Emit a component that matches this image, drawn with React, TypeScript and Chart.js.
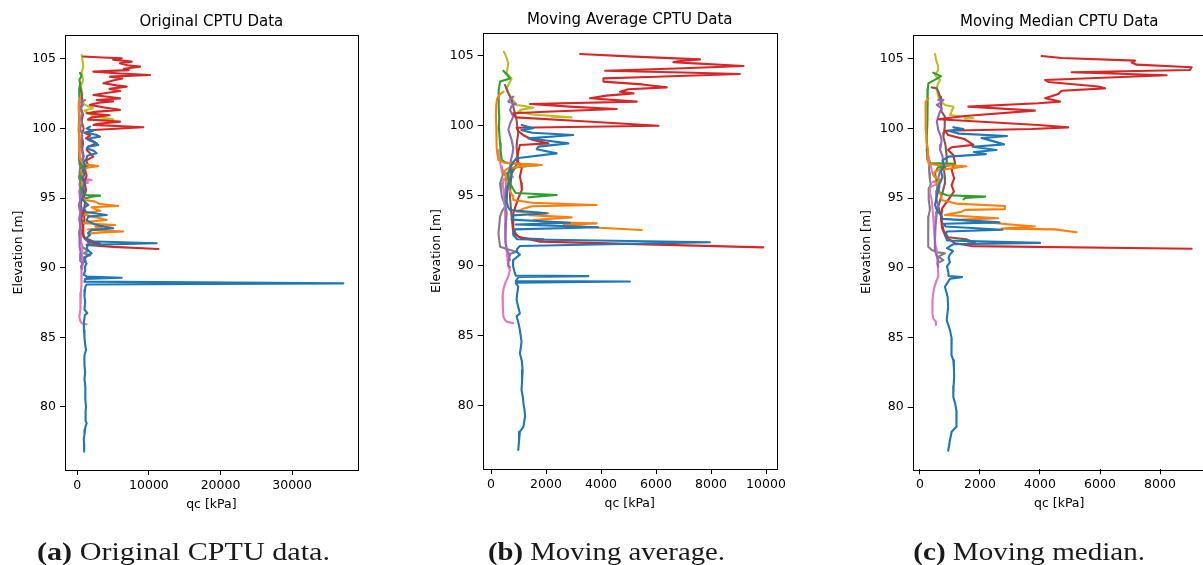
import React, { useEffect, useRef } from "react";
import { Chart, registerables } from "chart.js";

Chart.register(...registerables);

// Each profile is a list of [elevation (m), qc (kPa)] readings, top to bottom.
type Profile = [number, number][];

// ---------- (a) original soundings ----------
const origBlue: Profile = [
  [100.14, 1770], [100.0, 1300], [99.85, 2200], [99.7, 1200], [99.55, 2600], [99.42, 3170], [99.3, 1800],
  [99.18, 1540], [99.0, 2500], [98.82, 2940], [98.7, 1500], [98.58, 1310], [98.4, 2300], [98.22, 2700],
  [98.05, 1400], [97.86, 1310], [97.6, 900], [97.3, 1100], [97.0, 800], [96.7, 1000], [96.4, 700],
  [96.07, 1075], [95.7, 800], [95.3, 900], [94.9, 700], [94.51, 1540], [94.3, 900], [94.0, 1200],
  [93.79, 4100], [93.67, 1540], [93.4, 1300], [93.1, 2500], [92.95, 3800], [92.84, 5030], [92.7, 2000],
  [92.5, 1500], [92.36, 1770], [92.1, 1200], [91.9, 1500], [91.76, 11080], [91.64, 1500], [91.4, 1300],
  [91.2, 1600], [91.04, 2000], [90.8, 1200], [90.5, 1000], [90.3, 1300], [90.08, 1075], [89.8, 1100],
  [89.5, 900], [89.36, 1310], [89.28, 6200], [89.2, 1100], [89.0, 1000], [88.88, 37150], [88.8, 1300],
  [88.6, 1100], [88.41, 1075], [88.0, 1000], [87.5, 1100], [87.0, 1000], [86.73, 1400], [86.6, 1050],
  [86.0, 900], [85.53, 940], [85.0, 1000], [84.5, 1100], [84.09, 1215], [83.7, 1000], [83.37, 940],
  [83.0, 1050], [82.5, 1100], [82.0, 1000], [81.46, 1120], [81.0, 1150], [80.5, 1100], [80.02, 1215],
  [79.6, 1150], [79.3, 1120], [79.0, 1200], [78.83, 1310], [78.6, 1150], [78.35, 1075], [78.0, 1000],
  [77.7, 900], [77.39, 940], [77.1, 950], [76.79, 980],
];
const origOrange: Profile = [
  [102.2, 400], [101.9, 200], [101.2, 250], [100.5, 300], [99.8, 200], [99.0, 350], [98.4, 250],
  [97.8, 400], [97.45, 800], [97.3, 2900], [97.2, 1500], [97.0, 500], [96.5, 800], [96.0, 600],
  [95.5, 900], [95.1, 700], [94.87, 1080], [94.75, 2500], [94.6, 3000], [94.44, 5730], [94.35, 2000],
  [94.27, 2240], [94.1, 3200], [93.95, 1500], [93.8, 1000], [93.6, 2800], [93.43, 4100], [93.3, 1500],
  [93.2, 900], [93.07, 5270], [92.95, 2500], [92.85, 3500], [92.75, 1500], [92.6, 6430], [92.52, 3000],
  [92.45, 1500],
];
const origGreen: Profile = [
  [104.0, 380], [103.8, 600], [103.5, 300], [103.2, 400], [102.8, 250], [102.2, 300], [101.5, 200],
  [100.8, 250], [100.0, 200], [99.2, 300], [98.5, 250], [97.8, 300], [97.45, 400], [97.35, 1500],
  [97.25, 600], [96.8, 400], [96.3, 600], [95.8, 500], [95.4, 700], [95.23, 1310], [95.18, 3170],
  [95.1, 2000], [95.0, 1200],
];
const origRed: Profile = [
  [105.17, 840], [105.1, 3500], [105.05, 6200], [104.95, 5000], [104.81, 7590], [104.69, 5960],
  [104.55, 7000], [104.45, 8760], [104.3, 6500], [104.2, 7200], [104.09, 2240], [103.95, 6000],
  [103.85, 10150], [103.73, 4570], [103.6, 6300], [103.45, 5000], [103.25, 3640], [103.1, 5500],
  [103.01, 6890], [102.85, 4500], [102.7, 6000], [102.55, 4000], [102.41, 2240], [102.3, 4000],
  [102.17, 5960], [102.05, 2700], [101.95, 5000], [101.85, 3000], [101.7, 1770], [101.5, 4000],
  [101.34, 5960], [101.2, 2500], [101.1, 1310], [100.95, 4500], [100.8, 2000], [100.65, 1500],
  [100.5, 5960], [100.35, 3000], [100.26, 2240], [100.09, 9220], [99.9, 2240], [99.7, 1000],
  [99.5, 1800], [99.3, 1200], [99.1, 2200], [98.94, 2700], [98.7, 1500], [98.46, 1310], [98.2, 1800],
  [97.98, 2240], [97.7, 1200], [97.4, 1500], [97.03, 1080], [96.6, 1300], [96.2, 1000], [95.59, 1220],
  [95.0, 900], [94.63, 1080], [94.0, 900], [93.5, 1000], [92.9, 800], [92.24, 840], [92.0, 1200],
  [91.85, 2000], [91.76, 3170], [91.64, 1310], [91.5, 5000], [91.35, 11320],
];
const origPurple: Profile = [
  [102.05, 1080], [101.9, 500], [101.7, 800], [101.4, 400], [101.1, 700], [100.8, 500], [100.4, 600],
  [100.0, 400], [99.5, 700], [99.0, 500], [98.5, 600], [98.0, 800], [97.5, 500], [97.0, 400],
  [96.5, 600], [96.0, 300], [95.5, 500], [95.0, 400], [94.5, 350], [94.0, 500], [93.5, 300],
  [93.0, 400], [92.5, 300], [92.0, 350], [91.5, 300], [91.0, 500], [90.5, 400], [90.3, 800],
  [90.1, 500], [89.9, 600],
];
const origBrown: Profile = [
  [103.0, 400], [102.5, 600], [102.0, 700], [101.5, 500], [101.0, 800], [100.5, 600], [100.0, 900],
  [99.5, 600], [99.0, 800], [98.5, 700], [98.0, 900], [97.5, 600], [97.0, 800], [96.5, 500],
  [96.0, 700], [95.5, 500], [95.0, 600], [94.5, 500], [94.0, 700], [93.5, 600], [93.0, 800],
  [92.5, 700], [92.12, 1080], [92.0, 1800], [91.88, 2240], [91.8, 1500],
];
const origPink: Profile = [
  [98.4, 300], [97.8, 200], [97.3, 400], [96.8, 300], [96.4, 900], [96.3, 2000], [96.2, 700],
  [96.1, 1500], [95.9, 400], [95.4, 300], [94.8, 400], [94.2, 500], [93.5, 400], [92.8, 600],
  [92.0, 500], [91.3, 700], [90.6, 650], [90.32, 750], [90.0, 700], [89.84, 610], [89.3, 550],
  [88.7, 600], [88.2, 500], [87.45, 470], [87.0, 400], [86.49, 280], [86.2, 400], [86.01, 610],
  [85.94, 1310],
];
const origGray: Profile = [
  [97.5, 300], [97.0, 500], [96.5, 200], [96.0, 600], [95.5, 300], [95.0, 500], [94.5, 200],
  [94.0, 400], [93.5, 300], [93.0, 500], [92.5, 250], [92.0, 400], [91.5, 700], [91.2, 1500],
  [91.05, 900], [90.9, 1800], [90.7, 600], [90.5, 1200], [90.35, 700],
];
const origOlive: Profile = [
  [105.29, 610], [105.0, 700], [104.45, 840], [104.0, 600], [103.5, 800], [103.0, 500], [102.5, 700],
  [102.0, 600], [101.7, 1080], [101.55, 1800], [101.46, 2240], [101.3, 1000], [101.1, 1500],
  [100.9, 2500], [100.75, 4000], [100.67, 5030], [100.6, 1500],
];

// ---------- (b) moving average ----------
const avgBlue: Profile = [
  [100.05, 1115], [99.95, 1300], [99.82, 1540], [99.7, 1100], [99.5, 1500], [99.34, 2990], [99.1, 1360],
  [98.95, 2000], [98.74, 2810], [98.51, 1720], [98.32, 1660], [98.03, 2390], [97.68, 930], [97.4, 800],
  [97.0, 700], [96.5, 750], [96.0, 650], [95.5, 600], [95.0, 580], [94.58, 570], [94.2, 620],
  [93.99, 690], [93.75, 2020], [93.6, 800], [93.3, 750], [93.08, 2870], [92.95, 900], [92.75, 3900],
  [92.6, 850], [92.2, 810], [91.9, 950], [91.68, 7960], [91.42, 1050], [91.2, 950], [91.01, 930],
  [90.8, 1050], [90.42, 810], [90.0, 800], [89.6, 850], [89.3, 900], [89.27, 3540], [89.2, 1000],
  [88.92, 900], [88.88, 5050], [88.8, 900], [88.51, 990], [88.0, 950], [87.56, 930], [87.0, 1000],
  [86.61, 1050], [86.4, 930], [85.9, 1000], [85.42, 1050], [84.59, 1110], [84.1, 1080], [83.76, 1050],
  [83.2, 1120], [82.57, 1150], [81.8, 1130], [81.14, 1110], [80.6, 1160], [80.19, 1180], [79.7, 1220],
  [79.24, 1240], [78.8, 1200], [78.52, 1180], [78.16, 1050], [77.5, 1020], [76.86, 990],
];
const avgOrange: Profile = [
  [102.43, 450], [102.2, 300], [101.96, 230], [101.5, 190], [100.65, 180], [100.0, 190], [99.3, 200],
  [98.5, 205], [98.0, 230], [97.56, 270], [97.35, 500], [97.32, 810], [97.2, 1840], [97.1, 1050],
  [96.95, 600], [96.7, 450], [96.4, 550], [96.1, 520], [95.89, 570], [95.5, 650], [95.1, 750],
  [94.94, 810], [94.7, 810], [94.5, 1500], [94.34, 3840], [94.25, 1500], [94.1, 1200], [93.87, 930],
  [93.75, 2080], [93.62, 1400], [93.46, 2930], [93.27, 1540], [93.1, 2000], [93.03, 3840],
  [92.92, 2630], [92.75, 3600], [92.56, 5480],
];
const avgGreen: Profile = [
  [103.93, 450], [103.6, 600], [103.38, 690], [103.15, 330], [102.6, 280], [102.08, 270], [101.3, 290],
  [100.65, 300], [99.8, 290], [98.75, 330], [98.2, 350], [97.56, 390], [97.4, 500], [97.32, 690],
  [97.2, 1780], [97.05, 1000], [96.96, 810], [96.6, 600], [96.2, 650], [95.89, 690], [95.5, 800],
  [95.2, 900], [95.06, 2390], [94.92, 1500], [94.89, 1360],
];
const avgRed: Profile = [
  [105.12, 3240], [104.95, 5000], [104.74, 7600], [104.6, 6800], [104.53, 6630], [104.45, 7400],
  [104.26, 9180], [104.1, 7000], [103.93, 4150], [103.8, 7000], [103.69, 9050], [103.5, 6000],
  [103.38, 4090], [103.15, 4090], [102.95, 5500], [102.74, 6390], [102.6, 5000], [102.43, 4690],
  [102.31, 5180], [102.15, 4200], [101.96, 3600], [101.72, 5300], [101.55, 1420], [101.35, 3000],
  [101.2, 4570], [101.0, 2000], [100.89, 810], [100.6, 900], [100.3, 3500], [100.0, 6090],
  [99.86, 930], [99.6, 1000], [99.3, 1200], [99.0, 1500], [98.74, 2090], [98.63, 1050], [98.2, 1000],
  [97.56, 930], [97.2, 1050], [96.96, 1120], [96.37, 1050], [95.9, 1100], [95.41, 1120], [94.82, 990],
  [94.3, 900], [93.75, 810], [92.68, 810], [92.3, 900], [92.08, 990], [91.73, 1780], [91.32, 9900],
];
const avgPurple: Profile = [
  [102.08, 810], [101.9, 700], [101.72, 630], [101.55, 900], [101.4, 750], [101.12, 690], [100.65, 810],
  [100.2, 700], [99.7, 630], [99.3, 700], [98.98, 750], [98.39, 810], [98.0, 780], [97.5, 720],
  [97.08, 690], [96.6, 620], [96.13, 570], [95.5, 540], [94.94, 510], [94.3, 540], [93.75, 570],
  [93.0, 540], [92.32, 510], [91.7, 540], [91.13, 570], [90.77, 690], [90.4, 640], [90.06, 630],
  [89.9, 690],
];
const avgBrown: Profile = [
  [102.91, 510], [102.6, 570], [102.31, 630], [101.84, 750], [101.36, 810], [100.9, 870], [100.41, 930],
  [99.9, 960], [99.46, 990], [98.95, 950], [98.5, 930], [97.9, 960], [97.56, 990], [97.1, 900],
  [96.6, 750], [96.0, 720], [95.4, 700], [94.94, 690], [94.2, 720], [93.51, 750], [92.9, 780],
  [92.32, 810], [91.96, 1120], [91.89, 1900], [91.8, 1780],
];
const avgPink: Profile = [
  [98.27, 270], [97.8, 300], [97.3, 340], [96.9, 380], [96.72, 390], [96.55, 700], [96.45, 500],
  [96.35, 800], [96.2, 450], [95.8, 430], [95.41, 450], [94.8, 480], [94.22, 510], [93.5, 510],
  [92.8, 510], [92.0, 540], [91.13, 570], [90.5, 600], [89.94, 630], [89.7, 690], [89.2, 620],
  [88.75, 510], [88.3, 450], [87.8, 420], [87.0, 430], [86.37, 450], [86.1, 520], [86.02, 570],
  [85.9, 810],
];
const avgGray: Profile = [
  [97.08, 390], [96.8, 420], [96.5, 430], [96.2, 380], [95.89, 330], [95.4, 360], [94.9, 400],
  [94.5, 480], [94.22, 510], [93.9, 400], [93.51, 330], [92.9, 300], [92.32, 270], [91.8, 300],
  [91.37, 330], [91.13, 690], [91.01, 930], [90.77, 570], [90.6, 650], [90.42, 690],
];
const avgOlive: Profile = [
  [105.29, 470], [104.9, 560], [104.45, 630], [104.1, 600], [103.74, 570], [103.38, 750], [103.0, 650],
  [102.67, 570], [102.3, 650], [101.96, 750], [101.7, 850], [101.48, 930], [101.38, 1300],
  [101.29, 1540], [101.15, 1100], [101.0, 990], [100.8, 1500], [100.6, 2930], [100.65, 2200],
];

// ---------- (c) moving median ----------
const medBlue: Profile = [
  [100.07, 1110], [99.95, 1450], [99.82, 950], [99.62, 1300], [99.45, 2900], [99.3, 2050], [99.1, 2400],
  [98.85, 2800], [98.68, 1750], [98.45, 2550], [98.3, 1800], [98.15, 2200], [97.97, 950], [97.7, 750],
  [97.3, 800], [96.9, 700], [96.5, 750], [96.0, 650], [95.5, 600], [95.0, 550], [94.5, 500],
  [94.2, 550], [94.0, 600], [93.8, 700], [93.5, 750], [93.25, 2650], [93.15, 800], [92.95, 850],
  [92.72, 2750], [92.6, 900], [92.3, 850], [91.95, 900], [91.78, 4000], [91.68, 1100], [91.4, 900],
  [91.2, 1100], [90.95, 1000], [90.7, 950], [90.4, 1000], [90.1, 900], [89.6, 950], [89.4, 950],
  [89.32, 1400], [89.2, 1000], [88.63, 830], [87.92, 920], [87.2, 940], [86.24, 890], [85.52, 1000],
  [84.92, 1055], [84.3, 1040], [83.73, 1060], [83.37, 1110], [82.8, 1130], [82.17, 1140], [81.5, 1120],
  [80.74, 1110], [80.26, 1170], [79.66, 1220], [79.1, 1210], [78.58, 1220], [78.22, 1055],
  [77.63, 1000], [76.86, 940],
];
const medOrange: Profile = [
  [102.15, 280], [101.92, 190], [101.5, 180], [101.0, 180], [100.5, 190], [100.0, 200], [99.5, 210],
  [99.0, 220], [98.45, 270], [97.8, 250], [97.45, 300], [97.37, 610], [97.28, 1550], [97.15, 1150],
  [97.0, 600], [96.77, 440], [96.5, 500], [96.3, 700], [96.1, 550], [95.8, 650], [95.5, 600],
  [95.2, 700], [94.86, 720], [94.6, 1200], [94.43, 2830], [94.2, 2830], [94.15, 1500], [94.02, 1390],
  [93.78, 830], [93.55, 2610], [93.45, 1390], [93.3, 1950], [92.95, 3830], [92.8, 2720], [92.75, 4500],
  [92.54, 5220],
];
const medGreen: Profile = [
  [104.0, 440], [103.75, 700], [103.55, 550], [103.23, 280], [102.8, 260], [102.27, 255], [101.5, 250],
  [100.5, 240], [99.5, 230], [98.5, 230], [97.8, 240], [97.5, 300], [97.45, 1170], [97.3, 900],
  [97.2, 600], [96.8, 500], [96.3, 550], [95.8, 600], [95.4, 650], [95.2, 900], [95.1, 2170],
  [95.0, 1500], [94.9, 1450],
];
const medRed: Profile = [
  [105.19, 4055], [105.05, 4720], [104.86, 7170], [104.72, 7055], [104.57, 7220], [104.38, 9055],
  [104.19, 9000], [104.02, 5055], [103.81, 8220], [103.47, 4170], [103.33, 4280], [103.0, 5940],
  [102.87, 6170], [102.7, 4720], [102.47, 4610], [102.16, 4170], [101.92, 4670], [101.8, 3940],
  [101.56, 1610], [101.27, 3830], [100.89, 1500], [100.65, 610], [100.24, 3940], [100.07, 4940],
  [99.95, 3720], [99.83, 830], [99.52, 940], [99.21, 1500], [98.81, 1780], [98.64, 1055], [98.45, 940],
  [98.09, 1110], [97.49, 1170], [97.01, 1055], [96.41, 1140], [95.93, 1055], [95.46, 1130],
  [94.86, 940], [94.26, 740], [93.54, 700], [92.82, 740], [92.22, 855], [91.75, 1170], [91.55, 1720],
  [91.36, 9055],
];
const medPurple: Profile = [
  [102.04, 610], [102.04, 780], [101.85, 700], [101.68, 560], [101.44, 720], [101.1, 650],
  [100.84, 610], [100.48, 560], [99.88, 610], [99.5, 680], [99.16, 720], [98.8, 700], [98.45, 670],
  [98.0, 750], [97.5, 780], [97.2, 700], [96.8, 650], [96.3, 600], [95.5, 560], [95.0, 540],
  [94.5, 600], [94.0, 560], [93.5, 540], [93.0, 520], [92.5, 510], [92.0, 500], [91.5, 490],
  [91.27, 500], [90.8, 560], [90.55, 610], [90.3, 580], [90.07, 610],
];
const medBrown: Profile = [
  [102.94, 390], [102.87, 560], [102.6, 620], [102.27, 670], [101.8, 700], [101.2, 720], [100.84, 830],
  [100.5, 820], [100.12, 830], [99.7, 800], [99.4, 780], [98.8, 850], [97.97, 890], [97.49, 890],
  [97.0, 800], [96.5, 830], [96.05, 830], [95.4, 750], [94.9, 680], [94.38, 610], [93.7, 700],
  [93.2, 740], [92.7, 780], [92.18, 940], [92.03, 1560], [91.79, 1830], [91.75, 1600],
];
const medPink: Profile = [
  [98.45, 220], [97.9, 300], [97.4, 350], [97.01, 390], [96.6, 450], [96.29, 610], [96.15, 420],
  [96.05, 640], [95.8, 350], [95.4, 330], [94.86, 390], [94.2, 420], [93.66, 440], [93.0, 460],
  [92.22, 480], [91.6, 520], [91.27, 555], [90.5, 580], [89.9, 600], [89.36, 610], [89.11, 555],
  [88.6, 480], [88.16, 440], [87.7, 420], [87.2, 410], [86.7, 420], [86.36, 440], [86.12, 530],
  [85.88, 530],
];
const medGray: Profile = [
  [97.49, 330], [97.2, 300], [96.8, 310], [96.3, 330], [96.0, 360], [95.7, 300], [95.34, 280],
  [94.9, 300], [94.4, 320], [94.14, 330], [93.66, 280], [93.2, 270], [92.6, 270], [92.0, 275],
  [91.51, 280], [91.27, 390], [91.1, 600], [91.03, 830], [90.79, 610], [90.55, 780], [90.4, 650],
];
const medOlive: Profile = [
  [105.34, 500], [105.0, 530], [104.79, 555], [104.5, 600], [104.19, 610], [103.83, 500], [103.47, 670],
  [103.2, 600], [102.87, 555], [102.5, 590], [102.27, 610], [101.9, 700], [101.68, 830], [101.55, 1110],
  [101.44, 1110], [101.3, 1060], [101.2, 1055], [100.96, 1000], [100.85, 1400], [100.72, 1780],
  [100.7, 1500],
];

// Tick values
const elevationTicks = [80, 85, 90, 95, 100, 105];
const qcTicksOriginal = [0, 10000, 20000, 30000];
const qcTicksAverage = [0, 2000, 4000, 6000, 8000, 10000];
const qcTicksMedian = [0, 2000, 4000, 6000, 8000];

// Sounding colours (tab10 order)
const profileColors = [
  "#1f77b4", "#ff7f0e", "#2ca02c", "#d62728", "#9467bd",
  "#8c564b", "#e377c2", "#7f7f7f", "#bcbd22",
];

interface PanelSpec {
  key: string;
  title: string;
  tag: string;
  caption: string;
  profiles: Profile[];
  xTicks: number[];
  xMin: number;
  xMax: number;
  yMin: number;
  yMax: number;
  canvasLeft: number;
  canvasWidth: number;
  plotLeft: number;
  plotRight: number;
  plotTop: number;
  plotBottom: number;
  captionLeft: number;
  captionRight: number;
}

const PAGE_H = 565;

const panels: PanelSpec[] = [
  {
    key: "a",
    title: "Original CPTU Data",
    tag: "(a)",
    caption: "Original CPTU data.",
    profiles: [origBlue, origOrange, origGreen, origRed, origPurple, origBrown, origPink, origGray, origOlive],
    xTicks: qcTicksOriginal,
    xMin: -1718, xMax: 39160, yMin: 75.47, yMax: 106.72,
    canvasLeft: 0, canvasWidth: 400,
    plotLeft: 65, plotRight: 357.7, plotTop: 35, plotBottom: 470,
    captionLeft: 37, captionRight: 330,
  },
  {
    key: "b",
    title: "Moving Average CPTU Data",
    tag: "(b)",
    caption: "Moving average.",
    profiles: [avgBlue, avgOrange, avgGreen, avgRed, avgPurple, avgBrown, avgPink, avgGray, avgOlive],
    xTicks: qcTicksAverage,
    xMin: -302, xMax: 10389, yMin: 75.5, yMax: 106.62,
    canvasLeft: 420, canvasWidth: 400,
    plotLeft: 482.7, plotRight: 776.7, plotTop: 33, plotBottom: 469,
    captionLeft: 488, captionRight: 725,
  },
  {
    key: "c",
    title: "Moving Median CPTU Data",
    tag: "(c)",
    caption: "Moving median.",
    profiles: [medBlue, medOrange, medGreen, medRed, medPurple, medBrown, medPink, medGray, medOlive],
    xTicks: qcTicksMedian,
    xMin: -243, xMax: 9523, yMin: 75.53, yMax: 106.72,
    canvasLeft: 840, canvasWidth: 380,
    plotLeft: 912.7, plotRight: 1205.7, plotTop: 34.7, plotBottom: 469.3,
    captionLeft: 913.3, captionRight: 1145,
  },
];

const SANS = '"DejaVu Sans", sans-serif';
const SERIF = '"Liberation Serif", "DejaVu Serif", serif';

function Panel({ spec }: { spec: PanelSpec }) {
  const ref = useRef<HTMLCanvasElement | null>(null);

  useEffect(() => {
    const canvas = ref.current;
    if (!canvas) return;
    const off = spec.canvasLeft;
    const yAxisWidth = spec.plotLeft - off;
    const xAxisHeight = PAGE_H - spec.plotBottom;
    const rightPad = off + spec.canvasWidth - spec.plotRight;

    const frame = {
      id: "frame",
      afterDatasetsDraw(chart: Chart) {
        const { ctx, chartArea: a } = chart;
        ctx.save();
        ctx.strokeStyle = "#000";
        ctx.lineWidth = 1;
        ctx.strokeRect(Math.round(a.left) + 0.5, Math.round(a.top) + 0.5,
          Math.round(a.right - a.left), Math.round(a.bottom - a.top));
        ctx.restore();
      },
      afterDraw(chart: Chart) {
        const { ctx, chartArea: a } = chart;
        const cx = (a.left + a.right) / 2;
        ctx.save();
        ctx.fillStyle = "#000";
        // title
        ctx.font = `15px ${SANS}`;
        ctx.textAlign = "center";
        ctx.textBaseline = "alphabetic";
        ctx.fillText(spec.title, cx, a.top - 9);
        // x axis label
        ctx.font = `12.5px ${SANS}`;
        ctx.fillText("qc [kPa]", cx, a.bottom + 37.5);
        // y axis label
        ctx.save();
        ctx.translate(a.left - 43, (a.top + a.bottom) / 2);
        ctx.rotate(-Math.PI / 2);
        ctx.fillText("Elevation [m]", 0, 0);
        ctx.restore();
        // caption below the panel
        const fs = 26;
        ctx.font = `bold ${fs}px ${SERIF}`;
        const w1 = ctx.measureText(spec.tag).width;
        ctx.font = `${fs}px ${SERIF}`;
        const rest = " " + spec.caption;
        const w2 = ctx.measureText(rest).width;
        const target = spec.captionRight - spec.captionLeft;
        const sx = target / (w1 + w2);
        ctx.translate(spec.captionLeft - off, 560);
        ctx.scale(sx, 1);
        ctx.textAlign = "left";
        ctx.font = `bold ${fs}px ${SERIF}`;
        ctx.fillStyle = "#1a1a1a";
        ctx.fillText(spec.tag, 0, 0);
        ctx.font = `${fs}px ${SERIF}`;
        ctx.fillText(rest, w1, 0);
        ctx.restore();
      },
    };

    const tickFont = { family: SANS, size: 12.5 };
    const chart = new Chart(canvas, {
      type: "scatter",
      data: {
        datasets: spec.profiles.map((p, i) => ({
          data: p.map(([elev, qc]) => ({ x: qc, y: elev })),
          showLine: true,
          borderColor: profileColors[i],
          backgroundColor: profileColors[i],
          borderWidth: 2.1,
          borderJoinStyle: "round",
          borderCapStyle: "round",
          pointRadius: 0,
          pointHoverRadius: 0,
          tension: 0,
          fill: false,
        })),
      },
      options: {
        responsive: false,
        animation: false,
        devicePixelRatio: 1,
        events: [],
        layout: { padding: { left: 0, top: spec.plotTop, right: rightPad, bottom: 0 } },
        plugins: { legend: { display: false }, tooltip: { enabled: false }, title: { display: false } },
        scales: {
          x: {
            type: "linear",
            min: spec.xMin,
            max: spec.xMax,
            afterBuildTicks: (s: any) => { s.ticks = spec.xTicks.map((v) => ({ value: v })); },
            afterFit: (s: any) => { s.height = xAxisHeight; },
            grid: { display: true, drawOnChartArea: false, drawTicks: true, tickLength: 5, tickColor: "#000", tickWidth: 1 },
            border: { display: false },
            ticks: { color: "#000", font: tickFont, padding: 3, autoSkip: false, maxRotation: 0, callback: (v: any) => String(v) },
          },
          y: {
            type: "linear",
            min: spec.yMin,
            max: spec.yMax,
            afterBuildTicks: (s: any) => { s.ticks = elevationTicks.map((v) => ({ value: v })); },
            afterFit: (s: any) => { s.width = yAxisWidth; },
            grid: { display: true, drawOnChartArea: false, drawTicks: true, tickLength: 5, tickColor: "#000", tickWidth: 1 },
            border: { display: false },
            ticks: { color: "#000", font: tickFont, padding: 4, autoSkip: false, callback: (v: any) => String(v) },
          },
        },
      },
      plugins: [frame],
    } as any);
    return () => chart.destroy();
  }, [spec]);

  return (
    <canvas
      ref={ref}
      width={spec.canvasWidth}
      height={PAGE_H}
      style={{ position: "absolute", left: spec.canvasLeft, top: 0, width: spec.canvasWidth, height: PAGE_H }}
    />
  );
}

export default function App() {
  return (
    <div style={{ position: "fixed", left: 0, top: 0, width: 1203, height: PAGE_H, overflow: "hidden", background: "#fff" }}>
      {panels.map((p) => (
        <Panel key={p.key} spec={p} />
      ))}
    </div>
  );
}
